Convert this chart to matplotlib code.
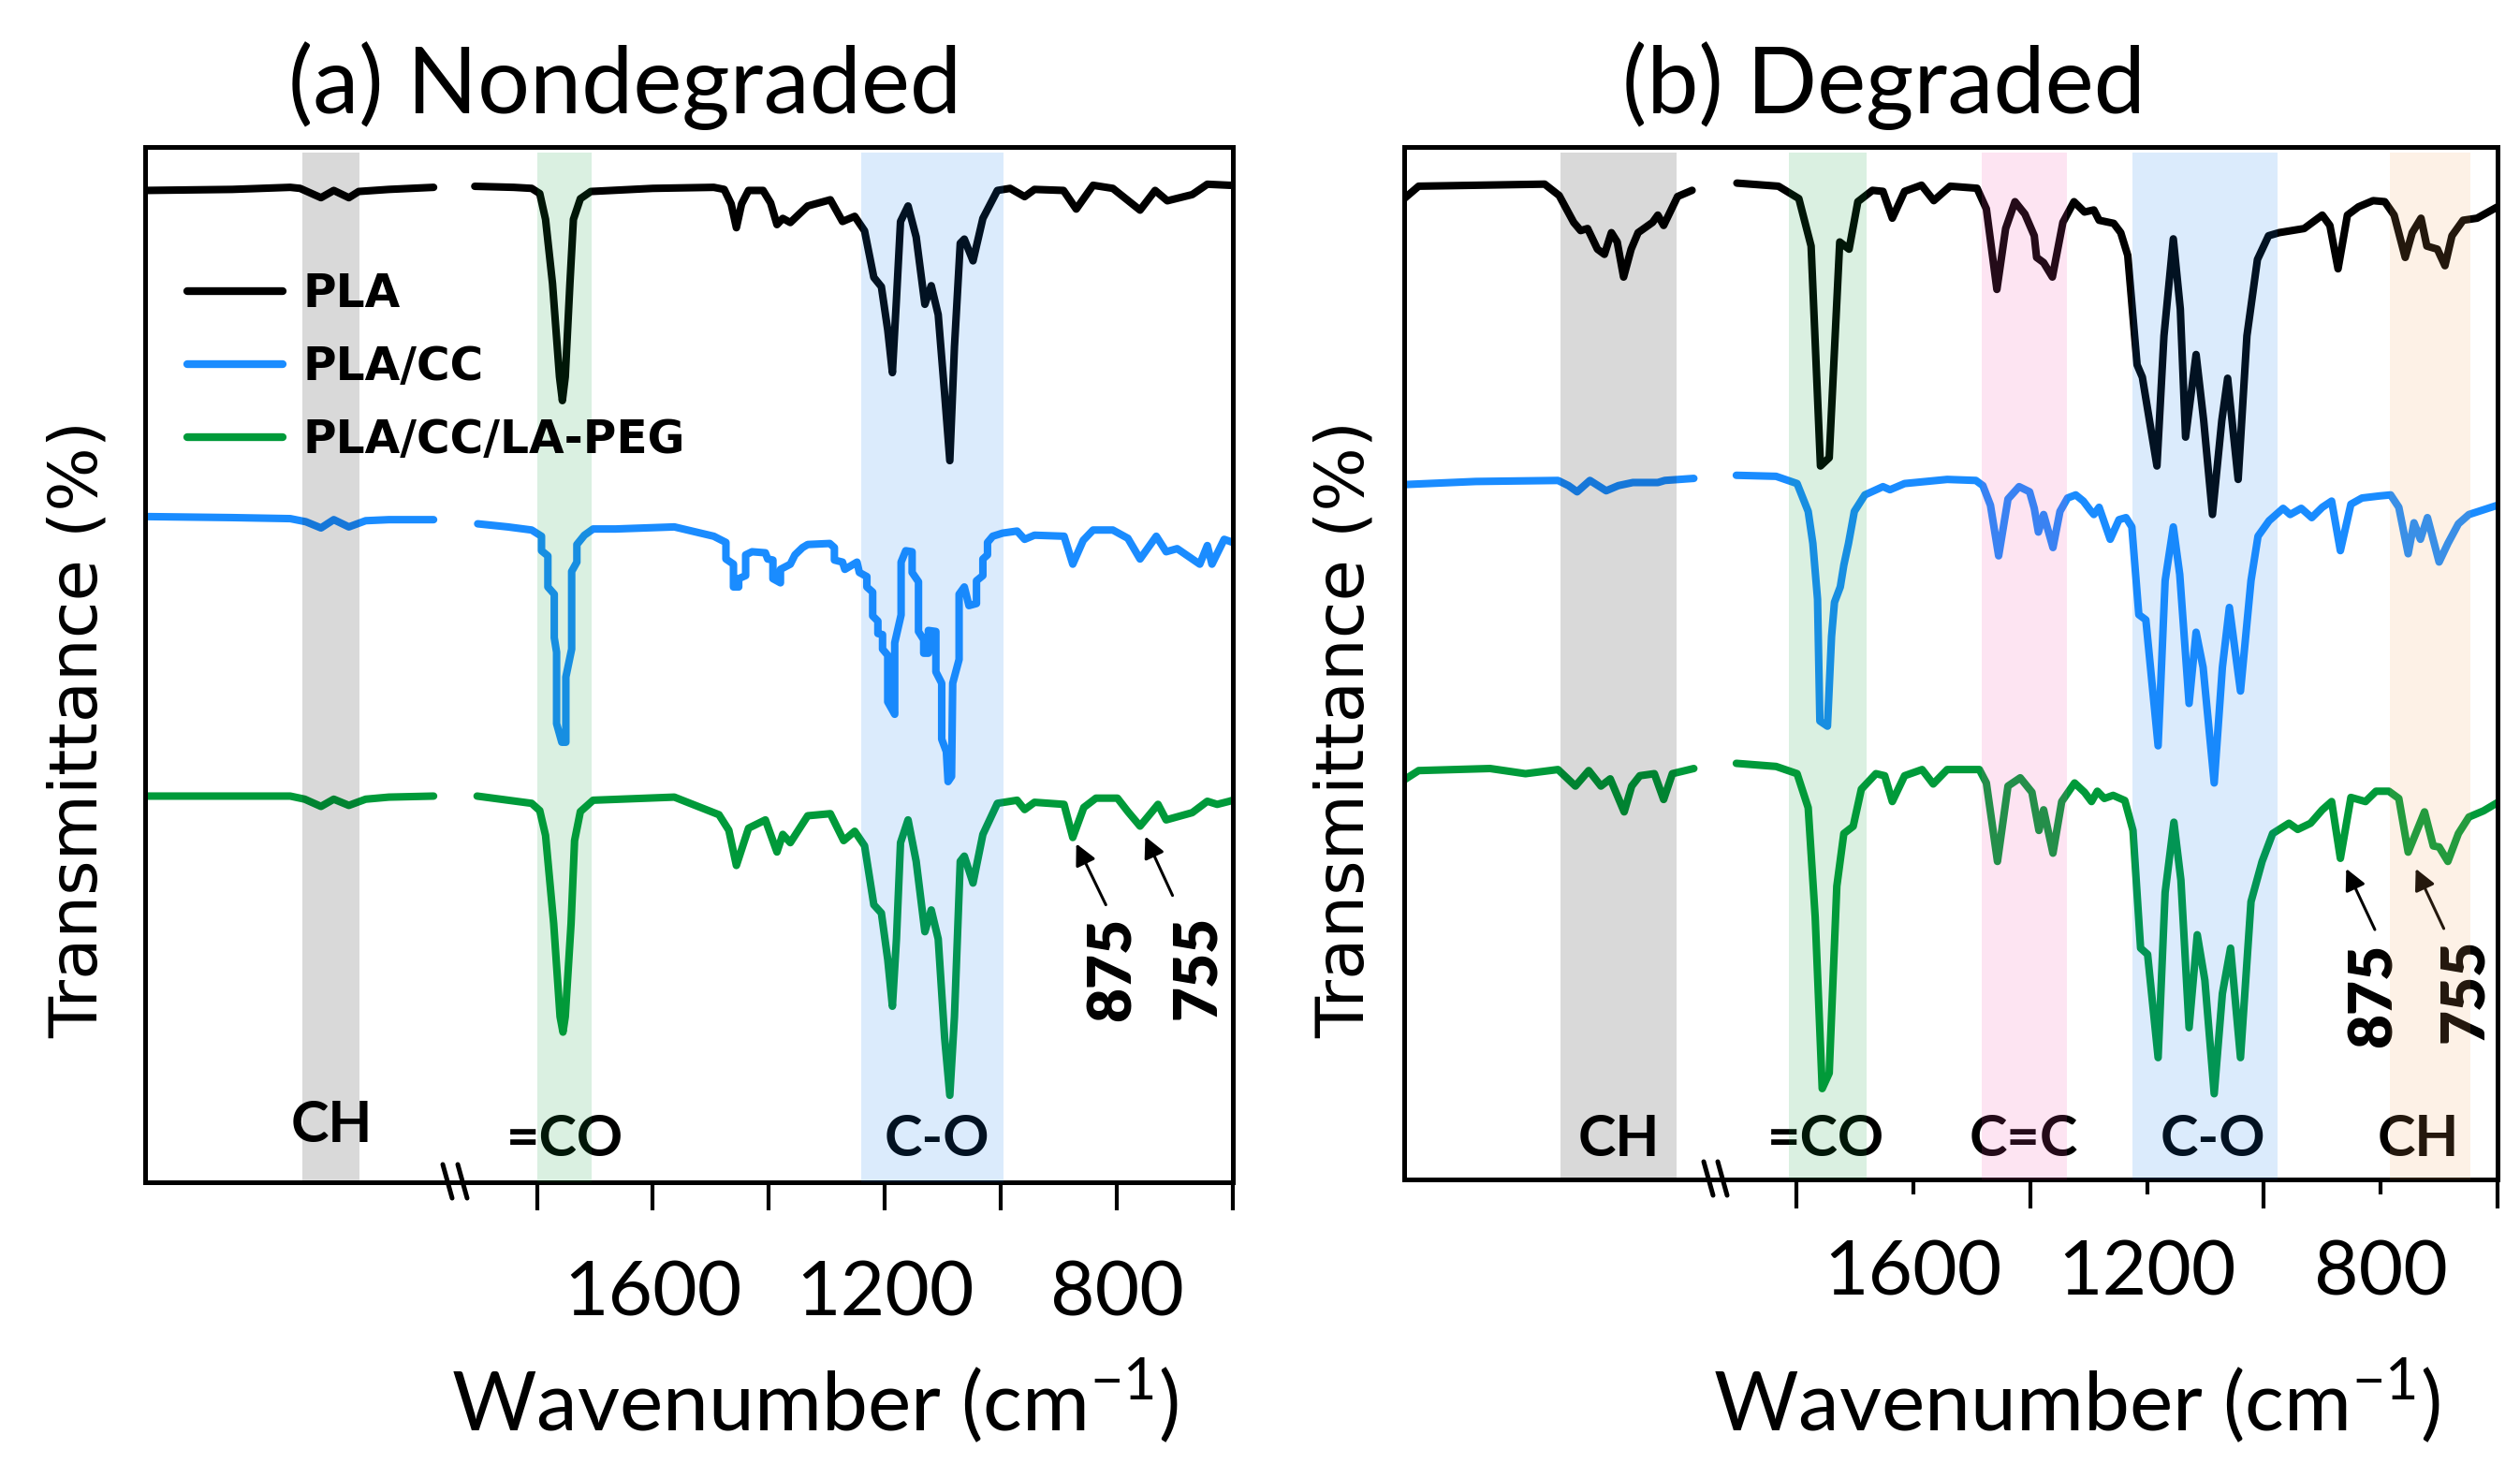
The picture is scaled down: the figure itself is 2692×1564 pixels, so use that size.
import matplotlib
matplotlib.use("Agg")
import matplotlib.pyplot as plt
from matplotlib.lines import Line2D
from matplotlib.ticker import FixedLocator, FixedFormatter, NullFormatter

plt.rcParams['font.family'] = ['Lato', 'DejaVu Sans']
plt.rcParams['mathtext.fontset'] = 'custom'
plt.rcParams['mathtext.rm'] = 'Lato'

# ---------------- data (wavenumber in cm-1, stacked transmittance in plot units) ----------------
samples = ["PLA", "PLA/CC", "PLA/CC/LA-PEG"]
colors = ["#000000", "#1a8cff", "#009a3a"]

# (a) nondegraded, CH stretching region
a_pla_ch_wn = [3300, 3150, 3050, 3033, 2997, 2975, 2949, 2932, 2880, 2803]
a_pla_ch_t = [95.8, 95.9, 96.1, 96.0, 95.1, 95.8, 95.1, 95.7, 95.9, 96.1]
a_cc_ch_wn = [3300, 3150, 3050, 3023, 2997, 2975, 2949, 2920, 2880, 2803]
a_cc_ch_t = [64.3, 64.2, 64.1, 63.8, 63.2, 64.0, 63.3, 63.9, 64.0, 64.0]
a_peg_ch_wn = [3300, 3150, 3050, 3025, 2997, 2975, 2949, 2920, 2880, 2803]
a_peg_ch_t = [37.3, 37.3, 37.3, 37.0, 36.3, 37.0, 36.4, 37.0, 37.2, 37.3]

# (a) nondegraded, fingerprint region
a_pla_wn = [1907, 1840, 1809, 1795, 1785, 1773, 1761, 1756, 1751, 1743, 1737, 1725, 1707, 1600,
            1495, 1477, 1465, 1456, 1447, 1435, 1410, 1397, 1386, 1376, 1363, 1333, 1294, 1273,
            1252, 1235, 1219, 1206, 1195, 1187, 1180, 1173, 1160, 1146, 1131, 1120, 1108, 1097,
            1088, 1080, 1070, 1063, 1048, 1031, 1006, 984, 959, 942, 892, 870, 841, 807, 760,
            734, 713, 670, 644, 606, 600]
a_pla_t = [96.2, 96.1, 96.0, 95.5, 93.0, 86.8, 77.8, 75.5, 77.8, 86.8, 93.0, 95.0, 95.7, 96.0,
           96.1, 95.9, 94.5, 92.2, 94.5, 95.8, 95.8, 94.6, 92.5, 93.1, 92.7, 94.3, 94.9, 92.8,
           93.3, 91.9, 87.4, 86.5, 82.3, 78.2, 85.3, 92.8, 94.3, 91.3, 84.8, 86.6, 83.8, 76.2,
           69.7, 80.7, 90.7, 91.1, 89.0, 93.1, 95.8, 96.0, 95.2, 95.9, 95.8, 94.0, 96.3, 96.0, 93.9,
           95.8, 94.8, 95.4, 96.4, 96.3, 96.3]
a_cc_wn = [1902, 1850, 1809, 1792, 1792, 1781, 1781, 1770, 1770, 1766, 1766, 1757, 1750, 1750,
           1740, 1740, 1731, 1731, 1718, 1703, 1664, 1563, 1495, 1474, 1474, 1461, 1461, 1452,
           1452, 1440, 1440, 1429, 1406, 1402, 1393, 1393, 1380, 1380, 1363, 1355, 1342, 1333,
           1295, 1287, 1287, 1273, 1269, 1248, 1244, 1231, 1231, 1221, 1221, 1212, 1212, 1204,
           1204, 1195, 1195, 1183, 1183, 1172, 1172, 1164, 1153, 1153, 1142, 1142, 1133, 1133,
           1125, 1125, 1112, 1112, 1102, 1102, 1094, 1091, 1085, 1083, 1072, 1072, 1063, 1055,
           1042, 1042, 1031, 1031, 1023, 1023, 1014, 997, 972, 959, 942, 891, 876, 858, 841, 807,
           781, 760, 732, 715, 696, 657, 644, 636, 615, 600]
a_cc_t = [63.6, 63.3, 63.0, 62.4, 61.0, 60.5, 57.5, 56.8, 52.6, 51.2, 44.3, 42.5, 42.5, 48.8,
          51.5, 59.0, 59.9, 61.6, 62.5, 63.1, 63.1, 63.3, 62.4, 61.8, 60.2, 59.7, 57.5, 57.5,
          58.3, 58.6, 60.6, 60.9, 60.8, 60.2, 60.1, 58.3, 57.9, 59.2, 59.7, 60.6, 61.3, 61.6,
          61.7, 61.3, 60.1, 59.9, 59.2, 59.9, 58.9, 58.5, 57.5, 57.0, 54.7, 54.2, 53.0, 52.9,
          51.5, 50.9, 46.4, 45.2, 52.1, 54.8, 59.9, 61.0, 60.9, 58.9, 58.0, 53.2, 52.4, 51.1,
          51.1, 53.3, 53.2, 49.3, 48.2, 42.8, 41.6, 38.7, 39.2, 48.2, 50.5, 56.8, 57.5, 55.7,
          55.9, 58.1, 58.6, 60.2, 60.6, 61.8, 62.4, 62.7, 62.9, 62.1, 62.5, 62.4, 59.7, 62.0, 63.0, 63.0,
          62.2, 60.2, 62.4, 60.9, 61.2, 59.7, 61.5, 59.7, 62.1, 61.8]
a_peg_wn = [1903, 1809, 1795, 1785, 1771, 1760, 1755, 1751, 1741, 1735, 1725, 1703, 1563, 1486,
            1469, 1456, 1435, 1406, 1386, 1376, 1363, 1333, 1294, 1271, 1252, 1235, 1219, 1206,
            1195, 1187, 1180, 1173, 1160, 1146, 1131, 1120, 1108, 1097, 1088, 1080, 1070, 1063,
            1048, 1031, 1006, 972, 959, 942, 891, 876, 857, 836, 799, 781, 760, 729, 715, 670,
            644, 627, 606, 600]
a_peg_t = [37.3, 36.6, 35.9, 33.5, 25.0, 16.0, 14.5, 16.0, 25.0, 33.0, 35.8, 36.9, 37.2, 35.5,
           34.0, 30.6, 34.2, 35.0, 31.9, 33.6, 32.8, 35.4, 35.6, 33.0, 33.9, 32.5, 26.8, 26.0,
           21.5, 17.0, 23.5, 32.8, 35.0, 31.0, 24.2, 26.3, 23.5, 14.0, 8.4, 16.0, 31.0, 31.5,
           28.9, 33.6, 36.6, 36.9, 36.0, 36.7, 36.5, 33.3, 36.2, 37.1, 37.1, 35.8, 34.4, 36.5,
           35.0, 35.7, 36.8, 36.5, 36.8, 36.9]

# (b) degraded, CH stretching region
b_pla_ch_wn = [3300, 3275, 3058, 3033, 3008, 2996, 2984, 2967, 2955, 2943, 2933, 2922, 2909,
               2897, 2872, 2863, 2853, 2829, 2804]
b_pla_ch_t = [95.0, 96.2, 96.4, 95.3, 92.7, 91.9, 92.1, 90.1, 89.6, 91.7, 90.8, 87.4, 90.1,
              91.7, 92.7, 93.4, 92.4, 95.2, 95.8]
b_cc_ch_wn = [3300, 3177, 3035, 3017, 3002, 2980, 2952, 2931, 2906, 2863, 2851, 2801]
b_cc_ch_t = [67.3, 67.6, 67.7, 67.2, 66.6, 67.7, 66.7, 67.2, 67.5, 67.5, 67.7, 67.9]
b_peg_ch_wn = [3300, 3275, 3152, 3091, 3035, 3005, 2982, 2961, 2945, 2921, 2908, 2894, 2869,
               2853, 2838, 2801]
b_peg_ch_t = [38.7, 39.6, 39.8, 39.3, 39.7, 38.1, 39.6, 38.1, 38.8, 35.6, 38.1, 39.1, 39.3,
              36.8, 39.3, 39.8]

# (b) degraded, fingerprint region
b_pla_wn = [1902, 1831, 1796, 1775, 1759, 1744, 1726, 1710, 1695, 1670, 1652, 1636, 1615, 1586,
            1565, 1537, 1491, 1475, 1457, 1442, 1426, 1409, 1393, 1389, 1377, 1362, 1344, 1325,
            1307, 1291, 1282, 1257, 1245, 1233, 1217, 1208, 1183, 1171, 1155, 1143, 1134, 1116,
            1103, 1088, 1072, 1062, 1044, 1029, 1011, 992, 974, 931, 900, 887, 873, 857, 838,
            813, 793, 777, 758, 746, 731, 721, 703, 690, 678, 659, 635, 600]
b_pla_t = [96.5, 96.2, 95.0, 90.4, 69.1, 69.9, 90.8, 90.1, 94.7, 95.8, 95.7, 93.1, 95.7, 96.3,
           94.8, 96.2, 96.0, 94.0, 86.2, 92.1, 94.7, 93.5, 91.4, 89.3, 88.8, 87.4, 92.7, 94.7,
           93.7, 93.9, 92.9, 92.6, 91.7, 89.5, 78.9, 77.7, 69.1, 81.7, 91.1, 84.3, 71.9, 79.9,
           73.5, 64.4, 73.5, 77.6, 67.8, 81.7, 89.1, 91.4, 91.7, 92.1, 93.4, 92.4, 88.2, 93.4, 94.2,
           94.8, 94.7, 93.4, 89.3, 91.7, 93.1, 90.4, 90.1, 88.5, 91.4, 92.9, 93.1, 94.2]
b_cc_wn = [1903, 1835, 1799, 1780, 1772, 1764, 1760, 1747, 1740, 1735, 1725, 1719, 1711, 1701,
           1683, 1652, 1640, 1615, 1542, 1493, 1481, 1468, 1454, 1438, 1419, 1401, 1393, 1386,
           1377, 1361, 1349, 1336, 1322, 1309, 1297, 1291, 1282, 1263, 1248, 1236, 1226, 1214,
           1202, 1181, 1169, 1155, 1144, 1128, 1116, 1104, 1085, 1071, 1059, 1040, 1022, 1010,
           991, 967, 955, 936, 918, 900, 884, 869, 851, 832, 802, 783, 769, 753, 743, 732, 720,
           700, 685, 667, 649, 600]
b_cc_t = [68.2, 68.1, 67.4, 64.7, 61.6, 56.2, 44.4, 43.9, 52.6, 55.9, 57.4, 59.5, 61.6, 64.7,
          66.3, 67.1, 66.8, 67.4, 67.8, 67.7, 67.2, 65.3, 60.4, 65.9, 67.1, 66.6, 65.0, 62.7,
          64.4, 61.2, 64.7, 66.0, 66.3, 65.7, 64.8, 64.4, 65.1, 62.0, 63.9, 64.1, 63.2, 54.7,
          54.2, 42.0, 58.0, 63.2, 58.6, 46.1, 53.0, 49.6, 38.4, 49.6, 55.4, 47.3, 58.0, 62.3,
          63.8, 65.0, 64.4, 65.0, 64.1, 65.1, 65.7, 60.9, 65.4, 66.0, 66.2, 66.3, 65.1, 60.6,
          63.6, 62.0, 64.1, 59.8, 61.6, 63.5, 64.4, 65.3]
b_peg_wn = [1903, 1835, 1799, 1780, 1768, 1756, 1744, 1731, 1719, 1703, 1689, 1664, 1649, 1636,
            1615, 1585, 1566, 1542, 1487, 1475, 1456, 1438, 1417, 1397, 1385, 1377, 1361, 1346,
            1324, 1307, 1295, 1285, 1273, 1258, 1238, 1224, 1211, 1199, 1181, 1169, 1154, 1142,
            1128, 1114, 1101, 1085, 1071, 1057, 1040, 1022, 1003, 985, 957, 942, 920, 900, 884,
            869, 851, 826, 808, 786, 769, 753, 740, 725, 710, 700, 685, 667, 649, 624, 600]
b_peg_t = [40.3, 40.0, 39.3, 36.0, 25.4, 8.8, 10.3, 28.4, 33.5, 34.2, 37.8, 39.3, 39.1, 36.6,
           39.1, 39.7, 38.3, 39.7, 39.7, 38.4, 30.8, 38.1, 38.9, 37.5, 33.8, 35.8, 31.6, 36.6,
           38.4, 37.5, 36.6, 37.6, 36.9, 37.2, 36.7, 33.8, 22.4, 21.8, 11.8, 27.8, 34.6, 29.0,
           14.7, 23.7, 19.3, 8.3, 18.0, 22.4, 11.8, 26.9, 30.8, 33.5, 34.5, 33.9, 34.5, 35.8,
           36.6, 31.1, 37.0, 36.6, 37.6, 37.6, 36.9, 31.7, 33.5, 35.6, 32.3, 32.2, 30.8, 33.5,
           35.1, 35.7, 36.5]

# highlighted bands: (low-wavenumber side, high side, colour)
a_bands_ch = [(2931, 3029, "#000000")]
a_bands_fp = [(1706, 1800, "#089b37"), (996, 1241, "#0f7aeb")]
b_bands_ch = [(2831, 3031, "#000000")]
b_bands_fp = [(1680, 1813, "#089b37"), (1337, 1483, "#f24ba8"), (976, 1225, "#0f7aeb"),
              (646, 784, "#f2a259")]

a_labels_ch = [("CH", 2979, 5.5)]
a_labels_fp = [("=CO", 1752, 4.2), ("C-O", 1110, 4.2)]
b_labels_ch = [("CH", 2931, 3.9)]
b_labels_fp = [("=CO", 1750, 3.9), ("C=C", 1411, 3.9), ("C-O", 1087, 3.9), ("CH", 736, 3.9)]

# arrows: label, tail (wn, t), head (wn, t), label position (wn, t)
a_arrows = [("875", (819, 26.8), (870, 32.7), (806, 20.6)),
            ("755", (704, 27.7), (751, 33.4), (661, 20.8))]
b_arrows = [("875", (810, 24.2), (859, 30.1), (811, 17.8)),
            ("755", (692, 24.3), (740, 30.1), (655, 18.3))]

# ---------------- figure ----------------
W, H = 2692, 1564
fig = plt.figure(figsize=(W / 200, H / 200), dpi=200)


def px_rect(x0, x1, ytop, ybot):
    return [x0 / W, 1 - ybot / H, (x1 - x0) / W, (ybot - ytop) / H]


def draw_panel(rect_ch, rect_fp, ch_data, fp_data, bands_ch, bands_fp, labels_ch, labels_fp, arrows):
    ax_ch = fig.add_axes(rect_ch)
    ax_fp = fig.add_axes(rect_fp)
    ax_ch.set_xlim(3300, 2763)
    ax_fp.set_xlim(1938, 600)
    for ax in (ax_ch, ax_fp):
        ax.set_ylim(0, 100)
        ax.set_yticks([])
        for s in ax.spines.values():
            s.set_linewidth(1.8)
    ax_ch.spines['right'].set_visible(False)
    ax_fp.spines['left'].set_visible(False)
    ax_ch.set_xticks([])

    for (wn, t), c in zip(ch_data, colors):
        ax_ch.plot(wn, t, color=c, lw=2.9, solid_joinstyle='round', solid_capstyle='round', zorder=2)
    for (wn, t), c in zip(fp_data, colors):
        ax_fp.plot(wn, t, color=c, lw=2.9, solid_joinstyle='round', solid_capstyle='round', zorder=2)

    for lo, hi, c in bands_ch:
        ax_ch.axvspan(lo, hi, ymin=0, ymax=0.995, color=c, alpha=0.15, lw=0, zorder=4)
    for lo, hi, c in bands_fp:
        ax_fp.axvspan(lo, hi, ymin=0, ymax=0.995, color=c, alpha=0.15, lw=0, zorder=4)

    for txt, x, y in labels_ch:
        ax_ch.text(x, y, txt, ha='center', va='center', fontsize=22, fontweight='bold', zorder=3)
    for txt, x, y in labels_fp:
        ax_fp.text(x, y, txt, ha='center', va='center', fontsize=22, fontweight='bold', zorder=3)

    for txt, tail, head, pos in arrows:
        ax_fp.annotate("", xy=head, xytext=tail,
                       arrowprops=dict(arrowstyle='-|>', color='k', lw=1.1, mutation_scale=17,
                                       shrinkA=0, shrinkB=0), zorder=3)
        ax_fp.text(pos[0], pos[1], txt, rotation=90, ha='center', va='center', fontsize=23,
                   fontweight='heavy', zorder=3)
    return ax_ch, ax_fp


# (a) Nondegraded
axa_ch, axa_fp = draw_panel(px_rect(155, 488, 157, 1263), px_rect(488, 1317, 157, 1263),
                            [(a_pla_ch_wn, a_pla_ch_t), (a_cc_ch_wn, a_cc_ch_t), (a_peg_ch_wn, a_peg_ch_t)],
                            [(a_pla_wn, a_pla_t), (a_cc_wn, a_cc_t), (a_peg_wn, a_peg_t)],
                            a_bands_ch, a_bands_fp, a_labels_ch, a_labels_fp, a_arrows)
axa_fp.set_xticks([1800, 1600, 1400, 1200, 1000, 800, 600])
axa_fp.set_xticklabels(["", "1600", "", "1200", "", "800", ""])
axa_fp.tick_params(axis='x', direction='out', length=10.8, width=1.5, pad=19, labelsize=29.5)

# (b) Degraded
axb_ch, axb_fp = draw_panel(px_rect(1500, 1833, 157, 1260), px_rect(1833, 2668, 157, 1260),
                            [(b_pla_ch_wn, b_pla_ch_t), (b_cc_ch_wn, b_cc_ch_t), (b_peg_ch_wn, b_peg_ch_t)],
                            [(b_pla_wn, b_pla_t), (b_cc_wn, b_cc_t), (b_peg_wn, b_peg_t)],
                            b_bands_ch, b_bands_fp, b_labels_ch, b_labels_fp, b_arrows)
axb_fp.xaxis.set_major_locator(FixedLocator([1800, 1400, 1000, 600]))
axb_fp.xaxis.set_major_formatter(NullFormatter())
axb_fp.xaxis.set_minor_locator(FixedLocator([1600, 1200, 800]))
axb_fp.xaxis.set_minor_formatter(FixedFormatter(["1600", "1200", "800"]))
axb_fp.tick_params(axis='x', which='major', direction='out', length=11, width=1.5)
axb_fp.tick_params(axis='x', which='minor', direction='out', length=5.8, width=1.5, pad=17,
                   labelsize=29.5)

# axis-break marks on the bottom spine
for cx, yb in [(478, 1262), (494, 1262), (1825, 1259), (1840, 1259)]:
    fig.add_artist(Line2D([(cx - 5) / W, (cx + 5) / W], [1 - (yb - 18) / H, 1 - (yb + 18) / H],
                          color='k', lw=1.8, solid_capstyle='round'))

# titles and axis labels
fig.text(668 / W, 1 - 92 / H, "(a) Nondegraded", ha='center', va='center', fontsize=35.5)
fig.text(2012 / W, 1 - 92 / H, "(b) Degraded", ha='center', va='center', fontsize=35.5)
for x in (871, 2219):
    fig.text(x / W, 1 - 1497 / H, r"Wavenumber (cm$^{\mathregular{-1}}$)", ha='center', va='center',
             fontsize=31.5)
for x in (84, 1437):
    fig.text(x / W, 1 - 779 / H, "Transmittance (%)", rotation=90, ha='center', va='center',
             fontsize=26, family='DejaVu Sans')

# legend in panel (a)
handles = [Line2D([], [], color=c, lw=3.0, solid_capstyle='round') for c in colors]
fig.legend(handles, samples, loc='upper left', bbox_to_anchor=(200 / W, 1 - 290 / H),
           frameon=False, prop={'family': 'DejaVu Sans', 'weight': 'bold', 'size': 17.5},
           handlelength=2.1, handletextpad=0.45, labelspacing=0.62, borderpad=0, borderaxespad=0)

fig.savefig("out.png", dpi=200)
